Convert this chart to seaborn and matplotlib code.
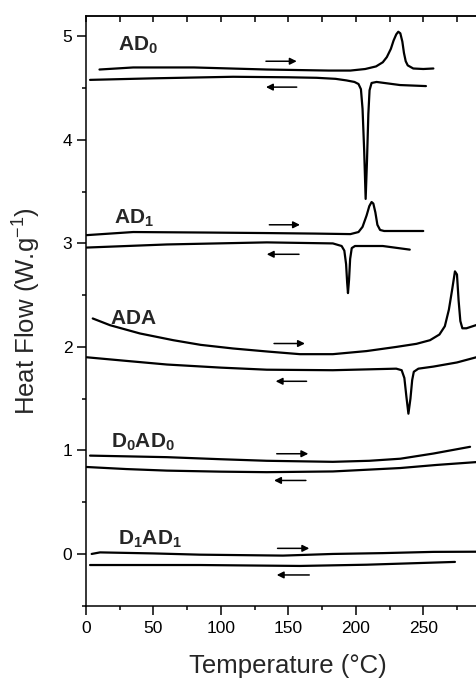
import matplotlib
matplotlib.use("Agg")
import matplotlib.pyplot as plt
import seaborn as sns
from matplotlib.ticker import MultipleLocator, FixedLocator

# heating (upper) and cooling (lower) DSC traces
ad0_heat_t = [10, 35, 80, 134, 180, 196, 207, 215, 220, 223, 226, 228, 230, 231.5, 233, 234.5, 235.7, 237, 238.5, 242.6, 250, 257.5]
ad0_heat_hf = [4.68, 4.70, 4.70, 4.68, 4.67, 4.67, 4.685, 4.71, 4.75, 4.80, 4.88, 4.96, 5.02, 5.045, 5.03, 4.95, 4.84, 4.76, 4.72, 4.69, 4.685, 4.69]
ad0_cool_t = [3, 50, 109, 150, 171, 185, 193, 199, 202, 203.8, 205, 206.2, 207.3, 208.3, 209.3, 210.2, 211.7, 215.4, 232.8, 252]
ad0_cool_hf = [4.58, 4.595, 4.61, 4.605, 4.60, 4.59, 4.575, 4.56, 4.54, 4.49, 4.30, 3.90, 3.43, 3.80, 4.25, 4.48, 4.55, 4.56, 4.53, 4.52]

ad1_heat_t = [0.5, 35, 90, 134, 170, 196, 202, 205, 208, 210, 211.7, 213, 214.5, 216, 218, 221, 235, 250]
ad1_heat_hf = [3.08, 3.11, 3.105, 3.10, 3.095, 3.09, 3.11, 3.16, 3.27, 3.36, 3.40, 3.385, 3.30, 3.18, 3.13, 3.12, 3.12, 3.12]
ad1_cool_t = [0.5, 60, 134, 183, 189.5, 191.5, 192.8, 193.6, 194.2, 195, 195.8, 197, 199.4, 220, 240]
ad1_cool_hf = [2.96, 2.99, 3.01, 3.00, 2.975, 2.93, 2.80, 2.62, 2.52, 2.65, 2.85, 2.955, 2.975, 2.975, 2.94]

ada_heat_t = [5, 17.8, 40, 64.7, 85, 109, 135, 158.6, 183, 208, 230, 245, 255, 262, 266, 269, 271.5, 273.5, 275, 276.2, 277.5, 279, 282, 289, 295]
ada_heat_hf = [2.275, 2.21, 2.13, 2.065, 2.02, 1.985, 1.955, 1.93, 1.93, 1.96, 2.0, 2.03, 2.065, 2.12, 2.20, 2.36, 2.56, 2.73, 2.70, 2.45, 2.25, 2.18, 2.18, 2.21, 2.24]
ada_cool_t = [0.5, 30, 60, 100, 134, 183, 230, 234, 236, 237.5, 239, 240.5, 241.8, 243, 246.4, 257.5, 275, 295]
ada_cool_hf = [1.90, 1.865, 1.83, 1.80, 1.78, 1.775, 1.79, 1.775, 1.70, 1.52, 1.355, 1.50, 1.68, 1.76, 1.79, 1.81, 1.85, 1.92]

d0ad0_heat_t = [3, 60, 100, 134, 183, 210, 233, 257.5, 284.7]
d0ad0_heat_hf = [0.95, 0.935, 0.915, 0.90, 0.89, 0.90, 0.92, 0.97, 1.035]
d0ad0_cool_t = [0.5, 30, 60, 100, 134, 183, 233, 260, 289, 300]
d0ad0_cool_hf = [0.84, 0.82, 0.805, 0.795, 0.79, 0.797, 0.83, 0.86, 0.887, 0.895]

d1ad1_heat_t = [4.2, 10.4, 50, 84.5, 146, 183, 220, 257.5, 300]
d1ad1_heat_hf = [0.0, 0.015, 0.005, -0.007, -0.016, 0.0, 0.008, 0.02, 0.022]
d1ad1_cool_t = [3, 84.5, 158.6, 208, 273.5]
d1ad1_cool_hf = [-0.107, -0.107, -0.116, -0.104, -0.077]

sample_names = [r"$\mathbf{AD}_\mathbf{0}$", r"$\mathbf{AD}_\mathbf{1}$", r"$\mathbf{ADA}$",
                r"$\mathbf{D}_\mathbf{0}\mathbf{AD}_\mathbf{0}$", r"$\mathbf{D}_\mathbf{1}\mathbf{AD}_\mathbf{1}$"]
label_t = [24, 21, 17.8, 18.5, 24]
label_hf = [4.86, 3.19, 2.22, 1.03, 0.09]

# arrow tails/heads: heating arrows point right, cooling arrows point left
heat_arrow_t = [(133.4, 156.2), (135.9, 158.6), (139.4, 162.3), (141.4, 164.8), (142.0, 165.5)]
heat_arrow_hf = [4.76, 3.18, 2.033, 0.968, 0.054]
cool_arrow_t = [(156.2, 133.4), (157.9, 134.0), (163.5, 140.6), (163.0, 139.4), (165.5, 141.4)]
cool_arrow_hf = [4.51, 2.895, 1.668, 0.71, -0.203]

x_ticks = [0, 50, 100, 150, 200, 250]

sns.set_style("ticks")
plt.rcParams["font.family"] = ["Liberation Sans", "DejaVu Sans"]
plt.rcParams["mathtext.fontset"] = "custom"
plt.rcParams["mathtext.rm"] = "Liberation Sans"
plt.rcParams["mathtext.bf"] = "Liberation Sans:bold"
plt.rcParams["mathtext.it"] = "Liberation Sans:italic"
plt.rcParams["mathtext.default"] = "regular"

fig = plt.figure(figsize=(4.76, 6.8), dpi=100)
ax = fig.add_axes([86 / 476, 74.3 / 680, 404.7 / 476, 590 / 680])

curves = [
    (ad0_heat_t, ad0_heat_hf), (ad0_cool_t, ad0_cool_hf),
    (ad1_heat_t, ad1_heat_hf), (ad1_cool_t, ad1_cool_hf),
    (ada_heat_t, ada_heat_hf), (ada_cool_t, ada_cool_hf),
    (d0ad0_heat_t, d0ad0_heat_hf), (d0ad0_cool_t, d0ad0_cool_hf),
    (d1ad1_heat_t, d1ad1_heat_hf), (d1ad1_cool_t, d1ad1_cool_hf),
]
for t, hf in curves:
    sns.lineplot(x=t, y=hf, sort=False, estimator=None, color="black", lw=1.6, ax=ax)

for name, x, y in zip(sample_names, label_t, label_hf):
    ax.text(x, y, name, fontsize=15, va="baseline", ha="left")

arrow_style = dict(arrowstyle="-|>", color="black", lw=1.1, mutation_scale=10, shrinkA=0, shrinkB=0)
for (x0, x1), y in zip(heat_arrow_t + cool_arrow_t, heat_arrow_hf + cool_arrow_hf):
    ax.annotate("", xy=(x1, y), xytext=(x0, y), arrowprops=arrow_style)

ax.set_xlim(0, 300)
ax.set_ylim(-0.5, 5.2)
ax.xaxis.set_major_locator(FixedLocator(x_ticks))
ax.xaxis.set_minor_locator(MultipleLocator(25))
ax.yaxis.set_major_locator(MultipleLocator(1))
ax.yaxis.set_minor_locator(MultipleLocator(0.5))

ax.tick_params(axis="both", which="major", direction="out", length=6.3, width=1.1,
               labelsize=12.5, pad=3.5, color="black", labelcolor="black")
ax.tick_params(axis="x", which="major", pad=5)
ax.tick_params(axis="both", which="minor", direction="out", length=3.2, width=1.1, color="black")

# mirrored ticks along the top edge point inward
top = ax.secondary_xaxis("top")
top.xaxis.set_major_locator(MultipleLocator(25))
top.tick_params(axis="x", which="major", direction="in", length=4.5, width=1.1,
                labeltop=False, color="black")
top.spines["top"].set_linewidth(1.1)

for side in ["left", "bottom", "top", "right"]:
    ax.spines[side].set_linewidth(1.1)
    ax.spines[side].set_color("black")

ax.set_xlabel("Temperature (°C)", fontsize=18.5, labelpad=13)
ax.set_ylabel("Heat Flow (W.g$^{-1}$)", fontsize=18.5, labelpad=14)

fig.savefig("out.png", dpi=100)
